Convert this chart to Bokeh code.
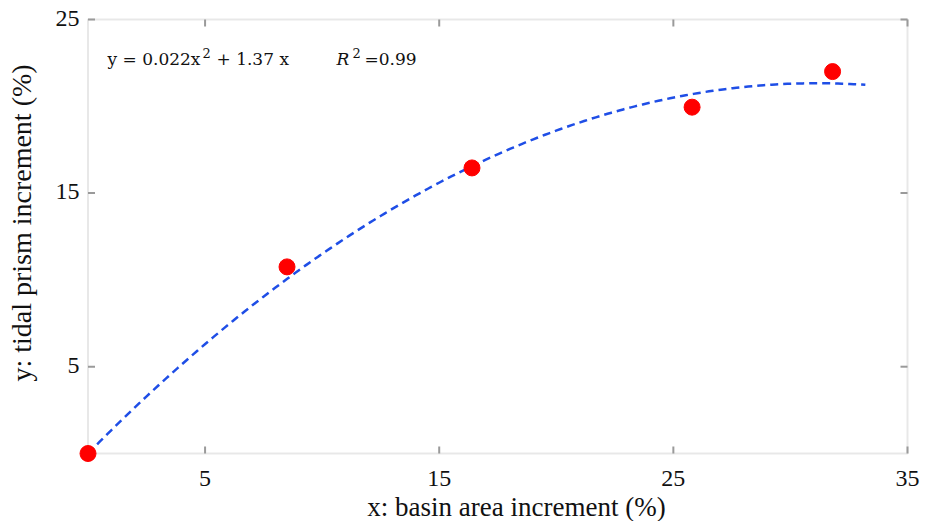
import numpy as np
from bokeh.plotting import figure
from bokeh.models import ColumnDataSource, BoxAnnotation
from bokeh.core.properties import value
from bokeh.embed import file_html
from bokeh.resources import INLINE

# ---- data ----
basin_area_increment = [0.0, 8.5, 16.4, 25.8, 31.8]
tidal_prism_increment = [0.0, 10.75, 16.45, 19.95, 22.0]
fit_a = -0.022   # quadratic coefficient of the plotted trend curve
fit_b = 1.37     # linear coefficient
fit_x_end = 33.2
x_min, x_max = 0, 35
y_min, y_max = 0, 25
x_ticks = [5, 15, 25, 35]
y_ticks = [5, 15, 25]
x_label = "x: basin area increment (%)"
y_label = "y: tidal prism increment (%)"

# ---- layout (pixels) ----
W, H = 926, 521
BOX_L, BOX_R, BOX_T, BOX_B = 87.5, 907.0, 19.0, 453.0
sx = (BOX_R - BOX_L) / (x_max - x_min)
sy = (BOX_B - BOX_T) / (y_max - y_min)
BASE_FIX = 0.38   # svg text baseline correction, in em

def px_x(px):
    return x_min + (px - BOX_L) / sx

def px_y(py):
    return y_min + (BOX_B - py) / sy

SERIF = "Liberation Serif"
MATH = "DejaVu Serif"
FRAME = "#b4b4b4"
TICK = "#9a9a9a"
TXT = "#111111"

p = figure(width=W, height=H,
           x_range=(px_x(0), px_x(W)), y_range=(px_y(H), px_y(0)),
           x_axis_location=None, y_axis_location=None,
           output_backend="svg", toolbar_location=None,
           min_border=0)
p.background_fill_color = "white"
p.border_fill_color = "white"
p.outline_line_color = None
p.grid.visible = False

# frame box
p.add_layout(BoxAnnotation(left=x_min, right=x_max, bottom=y_min, top=y_max,
                           fill_color=None, line_color=FRAME, line_width=2,
                           level="underlay"))

# inward ticks on all four sides
tick_len = 7
tlx = tick_len / sx
tly = tick_len / sy
nx, ny = len(x_ticks), len(y_ticks)
p.segment(x0=x_ticks, y0=[y_min] * nx, x1=x_ticks, y1=[y_min + tly] * nx,
          line_color=TICK, line_width=2)
p.segment(x0=x_ticks, y0=[y_max] * nx, x1=x_ticks, y1=[y_max - tly] * nx,
          line_color=TICK, line_width=2)
p.segment(x0=[x_min] * ny, y0=y_ticks, x1=[x_min + tlx] * ny, y1=y_ticks,
          line_color=TICK, line_width=2)
p.segment(x0=[x_max] * ny, y0=y_ticks, x1=[x_max - tlx] * ny, y1=y_ticks,
          line_color=TICK, line_width=2)

# tick labels
TICK_FS = 24
p.text(x=x_ticks, y=[px_y(487 - BASE_FIX * TICK_FS)] * nx, text=[str(t) for t in x_ticks],
       text_font=value(SERIF), text_font_size=f"{TICK_FS}px", text_color=TXT,
       text_align="center", text_baseline="alphabetic")
p.text(x=[px_x(79)] * ny, y=[t - (8 - BASE_FIX * TICK_FS) / sy for t in y_ticks],
       text=[str(t) for t in y_ticks],
       text_font=value(SERIF), text_font_size=f"{TICK_FS}px", text_color=TXT,
       text_align="right", text_baseline="alphabetic")

# trend curve from the stated fit coefficients
xf = np.linspace(0, fit_x_end, 200)
yf = fit_a * xf ** 2 + fit_b * xf
p.line(xf, yf, line_color="#1f4ee6", line_width=2.5, line_dash="8 5")

src = ColumnDataSource(dict(x=basin_area_increment, y=tidal_prism_increment))
p.scatter("x", "y", source=src, size=16, fill_color="#ff0000", line_color="#ff0000")

# text helper (screen-pixel baseline anchor converted through the scales)
def txt(px, py, text, size, font=MATH, style="normal", align="left", rotated=False):
    fix = BASE_FIX * size
    if rotated:
        px, py, angle = px - fix, py, np.pi / 2
    else:
        px, py, angle = px, py - fix, 0.0
    p.text(x=[px_x(px)], y=[px_y(py)], text=[text], text_font=value(font),
           text_font_size=f"{size}px", text_font_style=style, text_color=TXT,
           text_align=align, text_baseline="alphabetic", angle=angle)

# equation annotation, piece by piece
txt(107, 65, "y = 0.022x", 17)
txt(202, 57, "2", 13)
txt(216, 65, "+ 1.37 x", 17)
txt(336, 65, "R", 17, style="italic")
txt(352, 57, "2", 13)
txt(364, 65, "=0.99", 17)

# axis titles
txt(516, 517, x_label, 27, font=SERIF, align="center")
txt(32, 222.5, y_label, 28, font=SERIF, align="center", rotated=True)

open("out.html", "w").write(file_html(p, INLINE))
